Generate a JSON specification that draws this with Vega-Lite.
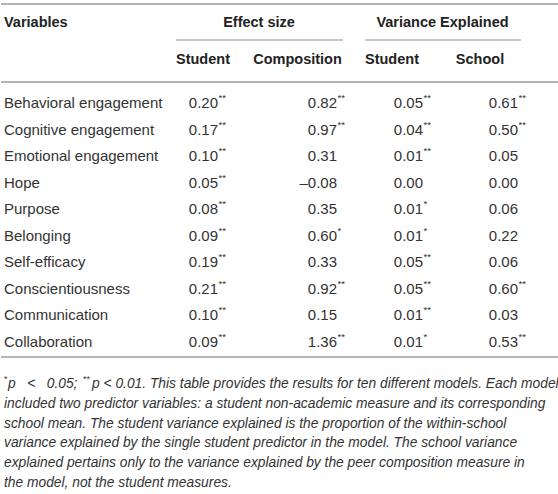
{
  "$schema": "https://vega.github.io/schema/vega-lite/v6.json",
  "width": 558,
  "height": 494,
  "autosize": {"type": "fit", "contains": "padding"},
  "padding": 0,
  "background": "white",
  "config": {"view": {"stroke": null}, "text": {"font": "Liberation Sans"}},
  "data": {"values": [
    {"row": 1, "variable": "Behavioral engagement", "student": "0.20", "studentSig": "**", "composition": "0.82", "compositionSig": "**", "vStudent": "0.05", "vStudentSig": "**", "school": "0.61", "schoolSig": "**"},
    {"row": 2, "variable": "Cognitive engagement", "student": "0.17", "studentSig": "**", "composition": "0.97", "compositionSig": "**", "vStudent": "0.04", "vStudentSig": "**", "school": "0.50", "schoolSig": "**"},
    {"row": 3, "variable": "Emotional engagement", "student": "0.10", "studentSig": "**", "composition": "0.31", "compositionSig": "", "vStudent": "0.01", "vStudentSig": "**", "school": "0.05", "schoolSig": ""},
    {"row": 4, "variable": "Hope", "student": "0.05", "studentSig": "**", "composition": "–0.08", "compositionSig": "", "vStudent": "0.00", "vStudentSig": "", "school": "0.00", "schoolSig": ""},
    {"row": 5, "variable": "Purpose", "student": "0.08", "studentSig": "**", "composition": "0.35", "compositionSig": "", "vStudent": "0.01", "vStudentSig": "*", "school": "0.06", "schoolSig": ""},
    {"row": 6, "variable": "Belonging", "student": "0.09", "studentSig": "**", "composition": "0.60", "compositionSig": "*", "vStudent": "0.01", "vStudentSig": "*", "school": "0.22", "schoolSig": ""},
    {"row": 7, "variable": "Self-efficacy", "student": "0.19", "studentSig": "**", "composition": "0.33", "compositionSig": "", "vStudent": "0.05", "vStudentSig": "**", "school": "0.06", "schoolSig": ""},
    {"row": 8, "variable": "Conscientiousness", "student": "0.21", "studentSig": "**", "composition": "0.92", "compositionSig": "**", "vStudent": "0.05", "vStudentSig": "**", "school": "0.60", "schoolSig": "**"},
    {"row": 9, "variable": "Communication", "student": "0.10", "studentSig": "**", "composition": "0.15", "compositionSig": "", "vStudent": "0.01", "vStudentSig": "**", "school": "0.03", "schoolSig": ""},
    {"row": 10, "variable": "Collaboration", "student": "0.09", "studentSig": "**", "composition": "1.36", "compositionSig": "**", "vStudent": "0.01", "vStudentSig": "*", "school": "0.53", "schoolSig": "**"}
  ]},
  "layer": [
    {
      "data": {"values": [{"line": -4}, {"line": 0}, {"line": 11}]},
      "mark": {"type": "rule", "stroke": "#b4b4b4", "strokeWidth": 2},
      "encoding": {
        "y": {"field": "line", "type": "quantitative", "axis": null, "scale": {"domain": [-4, -3, -2, -1, 0, 1, 10, 11, 12, 17], "range": [4, 23, 40, 60, 82, 103, 342, 357, 384, 483], "nice": false, "zero": false}},
        "x": {"datum": 0, "type": "quantitative", "axis": null, "scale": {"domain": [0, 1, 2, 3, 4, 5, 6, 7, 8, 9, 10, 11, 12, 13, 14, 15, 16, 17, 18, 19], "range": [0, 3, 7, 82, 91, 175, 202, 217, 258, 296.5, 336, 342, 364, 391, 422, 441.5, 479, 517, 520, 558], "nice": false, "zero": false}},
        "x2": {"datum": 19}
      }
    },
    {
      "data": {"values": [{"line": -2, "from": 5, "to": 11}, {"line": -2, "from": 12, "to": 18}]},
      "mark": {"type": "rule", "stroke": "#b4b4b4", "strokeWidth": 1.5},
      "encoding": {
        "y": {"field": "line", "type": "quantitative"},
        "x": {"field": "from", "type": "quantitative"},
        "x2": {"field": "to"}
      }
    },
    {
      "data": {"values": [{"label": "Variables", "col": 1, "line": -3}]},
      "mark": {"type": "text", "align": "left", "baseline": "middle", "fontWeight": "bold", "fontSize": 14.5, "fill": "#222"},
      "encoding": {
        "x": {"field": "col", "type": "quantitative"},
        "y": {"field": "line", "type": "quantitative"},
        "text": {"field": "label"}
      }
    },
    {
      "data": {"values": [
        {"label": "Effect size", "col": 8, "line": -3},
        {"label": "Variance Explained", "col": 15, "line": -3},
        {"label": "Student", "col": 6, "line": -1},
        {"label": "Composition", "col": 9, "line": -1},
        {"label": "Student", "col": 13, "line": -1},
        {"label": "School", "col": 16, "line": -1}
      ]},
      "mark": {"type": "text", "align": "center", "baseline": "middle", "fontWeight": "bold", "fontSize": 14.5, "fill": "#222"},
      "encoding": {
        "x": {"field": "col", "type": "quantitative"},
        "y": {"field": "line", "type": "quantitative"},
        "text": {"field": "label"}
      }
    },
    {
      "mark": {"type": "text", "align": "left", "baseline": "middle", "fontSize": 15, "fill": "#333"},
      "encoding": {"x": {"datum": 1, "type": "quantitative"}, "y": {"field": "row", "type": "quantitative"}, "text": {"field": "variable"}}
    },
    {
      "mark": {"type": "text", "align": "right", "baseline": "middle", "fontSize": 15, "fill": "#333"},
      "encoding": {"x": {"datum": 7, "type": "quantitative"}, "y": {"field": "row", "type": "quantitative"}, "text": {"field": "student"}}
    },
    {
      "mark": {"type": "text", "align": "left", "baseline": "middle", "fontSize": 9.5, "dx": 0.5, "dy": -5, "fill": "#333"},
      "encoding": {"x": {"datum": 7, "type": "quantitative"}, "y": {"field": "row", "type": "quantitative"}, "text": {"field": "studentSig"}}
    },
    {
      "mark": {"type": "text", "align": "right", "baseline": "middle", "fontSize": 15, "fill": "#333"},
      "encoding": {"x": {"datum": 10, "type": "quantitative"}, "y": {"field": "row", "type": "quantitative"}, "text": {"field": "composition"}}
    },
    {
      "mark": {"type": "text", "align": "left", "baseline": "middle", "fontSize": 9.5, "dx": 0.5, "dy": -5, "fill": "#333"},
      "encoding": {"x": {"datum": 10, "type": "quantitative"}, "y": {"field": "row", "type": "quantitative"}, "text": {"field": "compositionSig"}}
    },
    {
      "mark": {"type": "text", "align": "right", "baseline": "middle", "fontSize": 15, "fill": "#333"},
      "encoding": {"x": {"datum": 14, "type": "quantitative"}, "y": {"field": "row", "type": "quantitative"}, "text": {"field": "vStudent"}}
    },
    {
      "mark": {"type": "text", "align": "left", "baseline": "middle", "fontSize": 9.5, "dx": 0.5, "dy": -5, "fill": "#333"},
      "encoding": {"x": {"datum": 14, "type": "quantitative"}, "y": {"field": "row", "type": "quantitative"}, "text": {"field": "vStudentSig"}}
    },
    {
      "mark": {"type": "text", "align": "right", "baseline": "middle", "fontSize": 15, "fill": "#333"},
      "encoding": {"x": {"datum": 17, "type": "quantitative"}, "y": {"field": "row", "type": "quantitative"}, "text": {"field": "school"}}
    },
    {
      "mark": {"type": "text", "align": "left", "baseline": "middle", "fontSize": 9.5, "dx": 0.5, "dy": -5, "fill": "#333"},
      "encoding": {"x": {"datum": 17, "type": "quantitative"}, "y": {"field": "row", "type": "quantitative"}, "text": {"field": "schoolSig"}}
    },
    {
      "data": {"values": [
        {"row": 12, "pos": 2, "text": "p\u00a0\u00a0\u00a0<\u00a0\u00a0\u00a00.05;"},
        {"row": 12, "pos": 4, "text": "p < 0.01. This table provides the results for ten different models. Each model"},
        {"row": 13, "pos": 1, "text": "included two predictor variables: a student non-academic measure and its corresponding"},
        {"row": 14, "pos": 1, "text": "school mean. The student variance explained is the proportion of the within-school"},
        {"row": 15, "pos": 1, "text": "variance explained by the single student predictor in the model. The school variance"},
        {"row": 16, "pos": 1, "text": "explained pertains only to the variance explained by the peer composition measure in"},
        {"row": 17, "pos": 1, "text": "the model, not the student measures."}
      ]},
      "mark": {"type": "text", "align": "left", "baseline": "middle", "fontSize": 13.8, "fontStyle": "italic", "fill": "#333"},
      "encoding": {"x": {"field": "pos", "type": "quantitative"}, "y": {"field": "row", "type": "quantitative"}, "text": {"field": "text"}}
    },
    {
      "data": {"values": [
        {"row": 12, "pos": 1, "text": "*"},
        {"row": 12, "pos": 3, "text": "**"}
      ]},
      "mark": {"type": "text", "align": "left", "baseline": "middle", "fontSize": 9, "dy": -5, "fill": "#333"},
      "encoding": {"x": {"field": "pos", "type": "quantitative"}, "y": {"field": "row", "type": "quantitative"}, "text": {"field": "text"}}
    }
  ]
}
